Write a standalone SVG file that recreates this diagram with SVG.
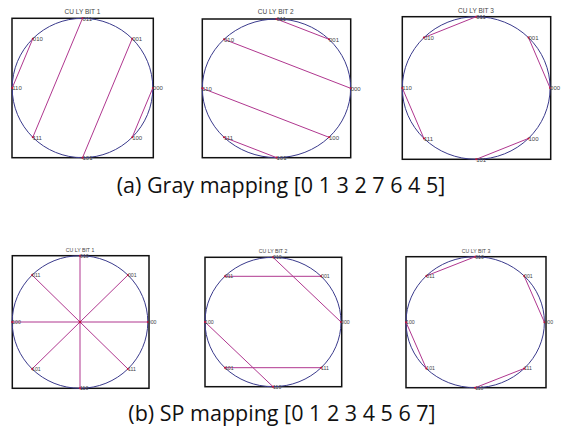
<svg xmlns="http://www.w3.org/2000/svg" width="562" height="434" viewBox="0 0 562 434">
<style>
.box{fill:none;stroke:#111;stroke-width:1.5}
.ring{fill:none;stroke:#3a3a8c;stroke-width:1}
.ln{stroke:#b0378f;stroke-width:1;fill:none}
.dot{fill:#c0103a}
.lb{font-family:"Liberation Sans",Arial,sans-serif;font-size:6px;fill:#444}
.lbs{font-family:"Liberation Sans",Arial,sans-serif;font-size:5.2px;fill:#444}
.tt{font-family:"Liberation Sans",Arial,sans-serif;font-size:6.5px;fill:#444;text-anchor:middle}
.tts{font-family:"Liberation Sans",Arial,sans-serif;font-size:5.2px;fill:#444;text-anchor:middle}
.cap{font-family:"Open Sans","Noto Sans",sans-serif;font-size:21.5px;fill:#111;text-anchor:middle}
</style>
<rect width="562" height="434" fill="#fff"/>

<!-- Panel 1 -->
<g id="panel1">
<rect class="box" x="12" y="18.3" width="141.3" height="139.4"/>
<ellipse class="ring" cx="82.5" cy="88" rx="70.3" ry="69.7"/>
<text class="tt" x="82.5" y="13.5">CU LY BIT 1</text>
</g>
<g id="connectors1">
<line class="ln" x1="152.8" y1="88" x2="132.2" y2="137.3"/>
<line class="ln" x1="132.2" y1="38.7" x2="82.5" y2="157.7"/>
<line class="ln" x1="82.5" y1="18.3" x2="32.8" y2="137.3"/>
<line class="ln" x1="32.8" y1="38.7" x2="12.2" y2="88"/>
</g>
<g id="p1-000"><circle class="dot" cx="152.8" cy="88" r="1"/><text class="lb" x="152.8" y="90.2">000</text></g>
<g id="p1-001"><circle class="dot" cx="132.2" cy="38.7" r="1"/><text class="lb" x="132.2" y="40.9">001</text></g>
<g id="p1-011"><circle class="dot" cx="82.5" cy="18.3" r="1"/><text class="lb" x="82.5" y="20.5">011</text></g>
<g id="p1-010"><circle class="dot" cx="32.8" cy="38.7" r="1"/><text class="lb" x="32.8" y="40.9">010</text></g>
<g id="p1-110"><circle class="dot" cx="12.2" cy="88" r="1"/><text class="lb" x="12.2" y="90.2">110</text></g>
<g id="p1-111"><circle class="dot" cx="32.8" cy="137.3" r="1"/><text class="lb" x="32.8" y="139.5">111</text></g>
<g id="p1-101"><circle class="dot" cx="82.5" cy="157.7" r="1"/><text class="lb" x="82.5" y="159.9">101</text></g>
<g id="p1-100"><circle class="dot" cx="132.2" cy="137.3" r="1"/><text class="lb" x="132.2" y="139.5">100</text></g>

<!-- Panel 2 -->
<g id="panel2">
<rect class="box" x="202.3" y="19" width="148.4" height="138.7"/>
<ellipse class="ring" cx="276.5" cy="88.3" rx="74.2" ry="69.3"/>
<text class="tt" x="275.7" y="14">CU LY BIT 2</text>
</g>
<g id="connectors2">
<line class="ln" x1="276.5" y1="19" x2="329" y2="39.3"/>
<line class="ln" x1="224" y1="39.3" x2="350.7" y2="88.3"/>
<line class="ln" x1="202.3" y1="88.3" x2="329" y2="137.3"/>
<line class="ln" x1="224" y1="137.3" x2="276.5" y2="157.6"/>
</g>
<g id="p2-000"><circle class="dot" cx="350.7" cy="88.3" r="1"/><text class="lb" x="350.7" y="90.5">000</text></g>
<g id="p2-001"><circle class="dot" cx="329" cy="39.3" r="1"/><text class="lb" x="329" y="41.5">001</text></g>
<g id="p2-011"><circle class="dot" cx="276.5" cy="19" r="1"/><text class="lb" x="276.5" y="21.2">011</text></g>
<g id="p2-010"><circle class="dot" cx="224" cy="39.3" r="1"/><text class="lb" x="224" y="41.5">010</text></g>
<g id="p2-110"><circle class="dot" cx="202.3" cy="88.3" r="1"/><text class="lb" x="202.3" y="90.5">110</text></g>
<g id="p2-111"><circle class="dot" cx="224" cy="137.3" r="1"/><text class="lb" x="224" y="139.5">111</text></g>
<g id="p2-101"><circle class="dot" cx="276.5" cy="157.6" r="1"/><text class="lb" x="276.5" y="159.8">101</text></g>
<g id="p2-100"><circle class="dot" cx="329" cy="137.3" r="1"/><text class="lb" x="329" y="139.5">100</text></g>

<!-- Panel 3 -->
<g id="panel3">
<rect class="box" x="402.3" y="16.7" width="148.4" height="142.6"/>
<ellipse class="ring" cx="476.2" cy="88" rx="73.9" ry="71.3"/>
<text class="tt" x="476" y="13">CU LY BIT 3</text>
</g>
<g id="connectors3">
<line class="ln" x1="476.2" y1="16.7" x2="423.9" y2="37.6"/>
<line class="ln" x1="528.5" y1="37.6" x2="550.1" y2="88"/>
<line class="ln" x1="402.3" y1="88" x2="423.9" y2="138.4"/>
<line class="ln" x1="476.2" y1="159.3" x2="528.5" y2="138.4"/>
</g>
<g id="p3-000"><circle class="dot" cx="550.1" cy="88" r="1"/><text class="lb" x="550.1" y="90.2">000</text></g>
<g id="p3-001"><circle class="dot" cx="528.5" cy="37.6" r="1"/><text class="lb" x="528.5" y="39.8">001</text></g>
<g id="p3-011"><circle class="dot" cx="476.2" cy="16.7" r="1"/><text class="lb" x="476.2" y="18.9">011</text></g>
<g id="p3-010"><circle class="dot" cx="423.9" cy="37.6" r="1"/><text class="lb" x="423.9" y="39.8">010</text></g>
<g id="p3-110"><circle class="dot" cx="402.3" cy="88" r="1"/><text class="lb" x="402.3" y="90.2">110</text></g>
<g id="p3-111"><circle class="dot" cx="423.9" cy="138.4" r="1"/><text class="lb" x="423.9" y="140.6">111</text></g>
<g id="p3-101"><circle class="dot" cx="476.2" cy="159.3" r="1"/><text class="lb" x="476.2" y="161.5">101</text></g>
<g id="p3-100"><circle class="dot" cx="528.5" cy="138.4" r="1"/><text class="lb" x="528.5" y="140.6">100</text></g>

<text id="caption-a" class="cap" x="281" y="193">(a) Gray mapping [0 1 3 2 7 6 4 5]</text>

<!-- Panel 4 -->
<g id="panel4">
<rect class="box" x="12.3" y="255.7" width="136.7" height="132.6"/>
<ellipse class="ring" cx="80" cy="322" rx="67.8" ry="66.3"/>
<text class="tts" x="80" y="251.5">CU LY BIT 1</text>
</g>
<g id="connectors4">
<line class="ln" x1="147.8" y1="322" x2="12.2" y2="322"/>
<line class="ln" x1="127.9" y1="275.1" x2="32.1" y2="368.9"/>
<line class="ln" x1="80" y1="255.7" x2="80" y2="388.3"/>
<line class="ln" x1="32.1" y1="275.1" x2="127.9" y2="368.9"/>
</g>
<g id="p4-000"><circle class="dot" cx="147.8" cy="322" r="1"/><text class="lbs" x="147.8" y="323.9">000</text></g>
<g id="p4-001"><circle class="dot" cx="127.9" cy="275.1" r="1"/><text class="lbs" x="127.9" y="277">001</text></g>
<g id="p4-010"><circle class="dot" cx="80" cy="255.7" r="1"/><text class="lbs" x="80" y="257.6">010</text></g>
<g id="p4-011"><circle class="dot" cx="32.1" cy="275.1" r="1"/><text class="lbs" x="32.1" y="277">011</text></g>
<g id="p4-100"><circle class="dot" cx="12.2" cy="322" r="1"/><text class="lbs" x="12.2" y="323.9">100</text></g>
<g id="p4-101"><circle class="dot" cx="32.1" cy="368.9" r="1"/><text class="lbs" x="32.1" y="370.8">101</text></g>
<g id="p4-110"><circle class="dot" cx="80" cy="388.3" r="1"/><text class="lbs" x="80" y="390.2">110</text></g>
<g id="p4-111"><circle class="dot" cx="127.9" cy="368.9" r="1"/><text class="lbs" x="127.9" y="370.8">111</text></g>
<circle class="dot" cx="80" cy="322" r="1.3"/>

<!-- Panel 5 -->
<g id="panel5">
<rect class="box" x="205" y="257.3" width="136.7" height="129.4"/>
<ellipse class="ring" cx="273" cy="322" rx="68" ry="64.7"/>
<text class="tts" x="273" y="252.5">CU LY BIT 2</text>
</g>
<g id="connectors5">
<line class="ln" x1="341" y1="322" x2="273" y2="257.3"/>
<line class="ln" x1="321.1" y1="276.3" x2="224.9" y2="276.3"/>
<line class="ln" x1="205" y1="322" x2="273" y2="386.7"/>
<line class="ln" x1="224.9" y1="367.7" x2="321.1" y2="367.7"/>
</g>
<g id="p5-000"><circle class="dot" cx="341" cy="322" r="1"/><text class="lbs" x="341" y="323.9">000</text></g>
<g id="p5-001"><circle class="dot" cx="321.1" cy="276.3" r="1"/><text class="lbs" x="321.1" y="278.2">001</text></g>
<g id="p5-010"><circle class="dot" cx="273" cy="257.3" r="1"/><text class="lbs" x="273" y="259.2">010</text></g>
<g id="p5-011"><circle class="dot" cx="224.9" cy="276.3" r="1"/><text class="lbs" x="224.9" y="278.2">011</text></g>
<g id="p5-100"><circle class="dot" cx="205" cy="322" r="1"/><text class="lbs" x="205" y="323.9">100</text></g>
<g id="p5-101"><circle class="dot" cx="224.9" cy="367.7" r="1"/><text class="lbs" x="224.9" y="369.6">101</text></g>
<g id="p5-110"><circle class="dot" cx="273" cy="386.7" r="1"/><text class="lbs" x="273" y="388.6">110</text></g>
<g id="p5-111"><circle class="dot" cx="321.1" cy="367.7" r="1"/><text class="lbs" x="321.1" y="369.6">111</text></g>

<!-- Panel 6 -->
<g id="panel6">
<rect class="box" x="406" y="256.7" width="140" height="131"/>
<ellipse class="ring" cx="475.2" cy="322.2" rx="69.2" ry="65.5"/>
<text class="tts" x="476" y="252.5">CU LY BIT 3</text>
</g>
<g id="connectors6">
<line class="ln" x1="544.4" y1="322.2" x2="524.1" y2="275.9"/>
<line class="ln" x1="475.2" y1="256.7" x2="426.3" y2="275.9"/>
<line class="ln" x1="406" y1="322.2" x2="426.3" y2="368.5"/>
<line class="ln" x1="475.2" y1="387.7" x2="524.1" y2="368.5"/>
</g>
<g id="p6-000"><circle class="dot" cx="544.4" cy="322.2" r="1"/><text class="lbs" x="544.4" y="324.1">000</text></g>
<g id="p6-001"><circle class="dot" cx="524.1" cy="275.9" r="1"/><text class="lbs" x="524.1" y="277.8">001</text></g>
<g id="p6-010"><circle class="dot" cx="475.2" cy="256.7" r="1"/><text class="lbs" x="475.2" y="258.6">010</text></g>
<g id="p6-011"><circle class="dot" cx="426.3" cy="275.9" r="1"/><text class="lbs" x="426.3" y="277.8">011</text></g>
<g id="p6-100"><circle class="dot" cx="406" cy="322.2" r="1"/><text class="lbs" x="406" y="324.1">100</text></g>
<g id="p6-101"><circle class="dot" cx="426.3" cy="368.5" r="1"/><text class="lbs" x="426.3" y="370.4">101</text></g>
<g id="p6-110"><circle class="dot" cx="475.2" cy="387.7" r="1"/><text class="lbs" x="475.2" y="389.6">110</text></g>
<g id="p6-111"><circle class="dot" cx="524.1" cy="368.5" r="1"/><text class="lbs" x="524.1" y="370.4">111</text></g>

<text id="caption-b" class="cap" x="282" y="421">(b) SP mapping [0 1 2 3 4 5 6 7]</text>
</svg>
